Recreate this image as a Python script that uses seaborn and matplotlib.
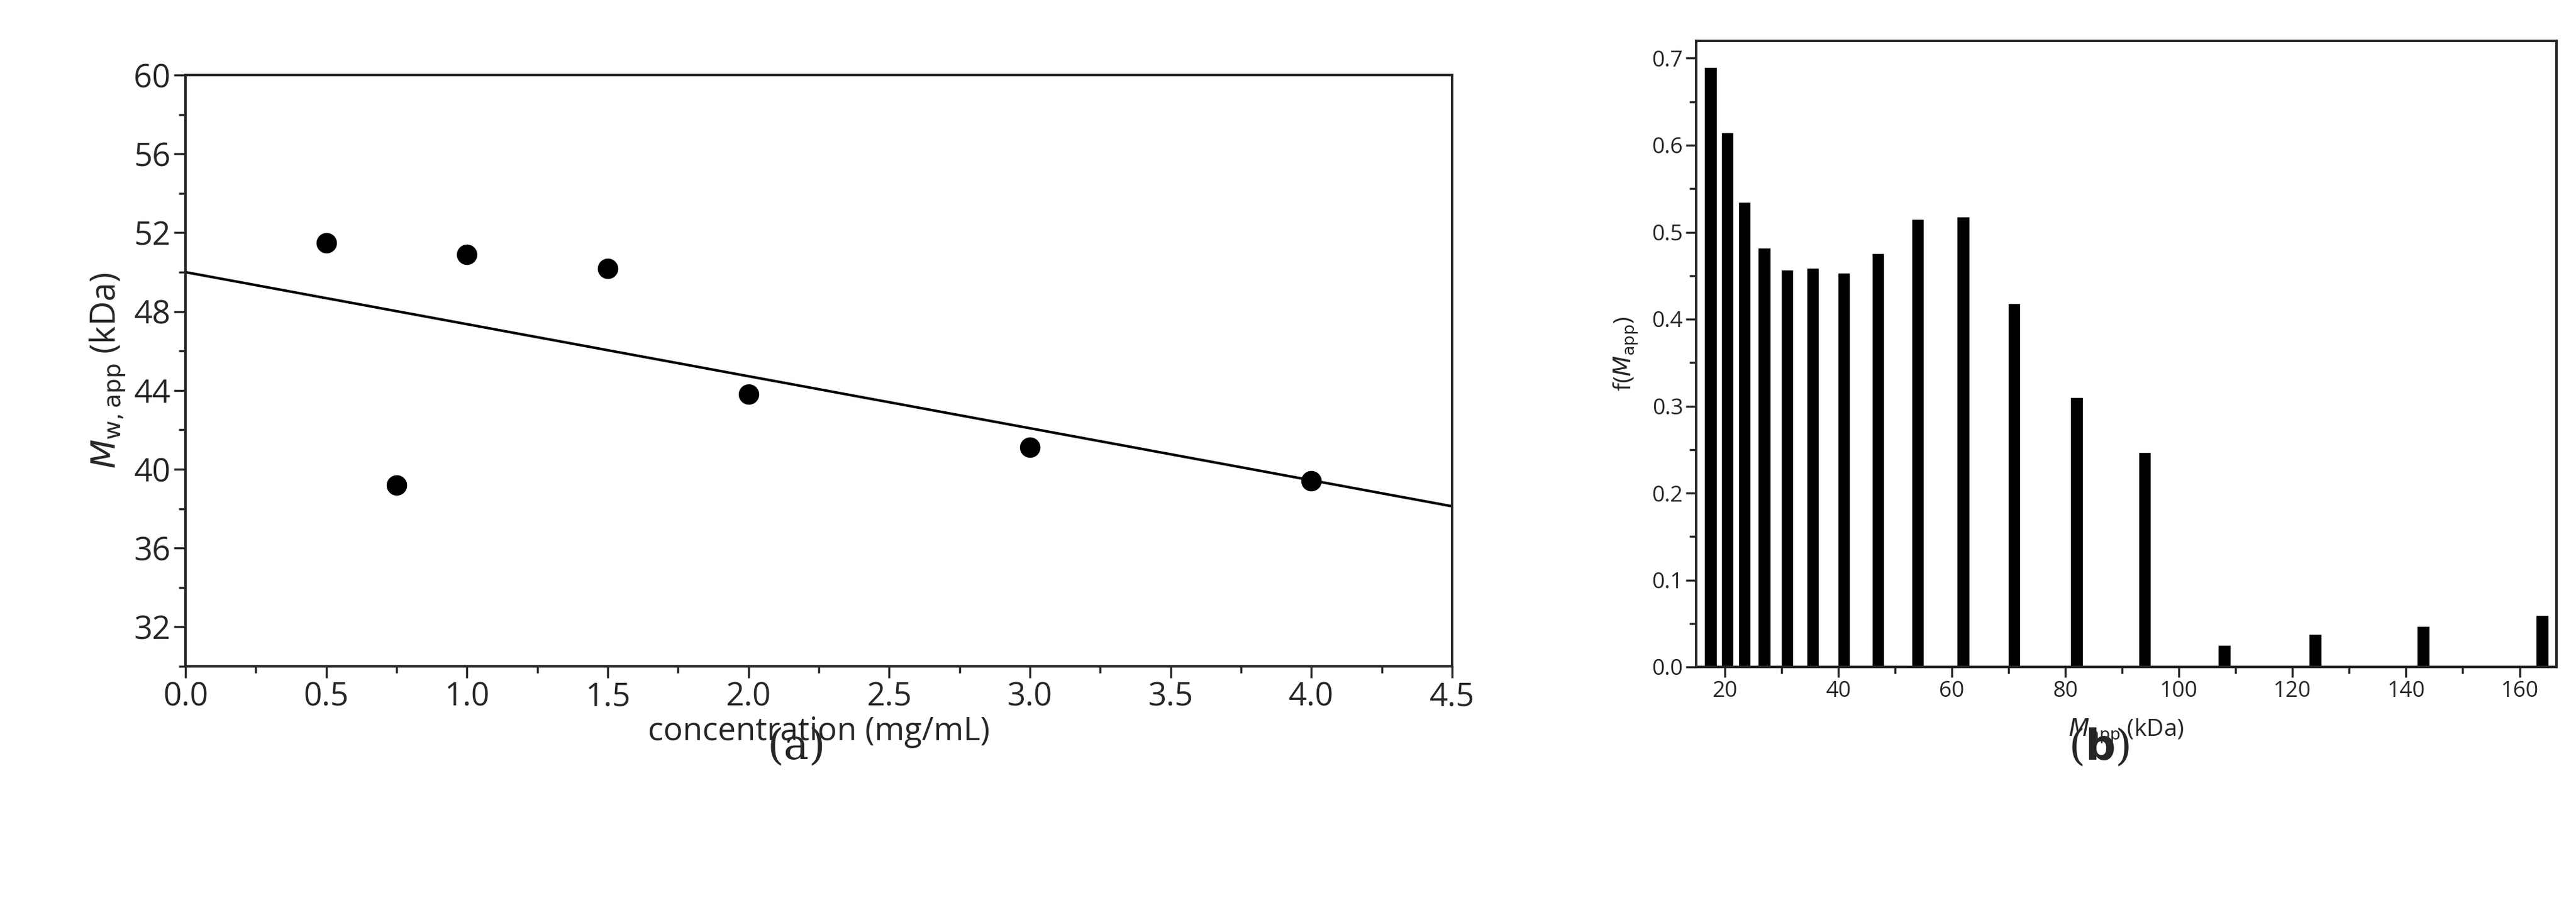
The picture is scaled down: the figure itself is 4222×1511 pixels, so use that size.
import numpy as np
import pandas as pd
import matplotlib
matplotlib.use("Agg")
import matplotlib.pyplot as plt
from matplotlib.ticker import MultipleLocator
import seaborn as sns

sns.set_style("ticks")
plt.rcParams['font.family'] = ['Open Sans', 'DejaVu Sans']

# panel (a): apparent Mw vs concentration
conc = [0.5, 0.75, 1.0, 1.5, 2.0, 3.0, 4.0]
mw_app = [51.5, 39.2, 50.9, 50.2, 43.8, 41.1, 39.4]
fit_intercept = 50.0
fit_slope = -2.64

# panel (b): distribution f(Mapp)
m_app = [17.5, 20.5, 23.5, 27, 31, 35.5, 41, 47, 54, 62, 71, 82, 94, 108, 124, 143, 164]
f_m = [0.69, 0.615, 0.535, 0.482, 0.457, 0.459, 0.453, 0.476, 0.515, 0.518,
       0.418, 0.31, 0.247, 0.025, 0.038, 0.047, 0.06]

fig = plt.figure(figsize=(42.22, 15.11), dpi=100)
ax1 = fig.add_axes([304/4222, 1 - 1092/1511, (2380-304)/4222, (1092-123)/1511])
ax2 = fig.add_axes([2780/4222, 1 - 1093/1511, (4190-2780)/4222, (1093-67)/1511])

# --- panel a
df_a = pd.DataFrame({'c': conc, 'm': mw_app})
sns.scatterplot(data=df_a, x='c', y='m', ax=ax1, color='black', s=500, edgecolor='black', zorder=3)
xl = np.array([0, 4.5])
sns.lineplot(x=xl, y=fit_intercept + fit_slope * xl, ax=ax1, color='black', linewidth=3)
ax1.set_xlim(0, 4.5)
ax1.set_ylim(30, 60)
ax1.set_yticks(np.arange(32, 61, 4))
ax1.xaxis.set_minor_locator(MultipleLocator(0.25))
ax1.yaxis.set_minor_locator(MultipleLocator(2))
ax1.tick_params(which='major', length=14, width=2.5, labelsize=38, direction='out')
ax1.tick_params(which='minor', length=8, width=2.5, direction='out')
ax1.set_xlabel('concentration (mg/mL)', fontsize=38, labelpad=2)
ax1.set_ylabel(r'$M_{\mathrm{w,app}}$ (kDa)', fontsize=40, labelpad=8)
for s in ax1.spines.values():
    s.set_linewidth(3)

# --- panel b
ax2.bar(m_app, f_m, width=2.2, color='black')
ax2.set_xlim(15, 166.5)
ax2.set_ylim(0, 0.72)
ax2.set_xticks(np.arange(20, 161, 20))
ax2.set_yticks(np.arange(0, 0.71, 0.1))
ax2.yaxis.set_major_formatter(matplotlib.ticker.FormatStrFormatter('%.1f'))
ax2.xaxis.set_minor_locator(MultipleLocator(10))
ax2.yaxis.set_minor_locator(MultipleLocator(0.05))
ax2.tick_params(which='major', length=12, width=2.5, labelsize=26, direction='out')
ax2.tick_params(which='minor', length=8, width=2.5, direction='out')
ax2.set_xlabel(r'$M_{\mathrm{app}}$ (kDa)', fontsize=28, labelpad=18)
ax2.set_ylabel(r'f($M_{\mathrm{app}}$)', fontsize=28, labelpad=14)
for s in ax2.spines.values():
    s.set_linewidth(3)

fig.text(1305/4222, 1 - 1225/1511, '(a)', fontsize=50, family='DejaVu Serif', ha='center', va='center')
fig.text(3440/4222, 1 - 1225/1511, r'($\mathbf{b}$)', fontsize=50, family='DejaVu Serif', ha='center', va='center')

fig.savefig('out.png', dpi=100)
